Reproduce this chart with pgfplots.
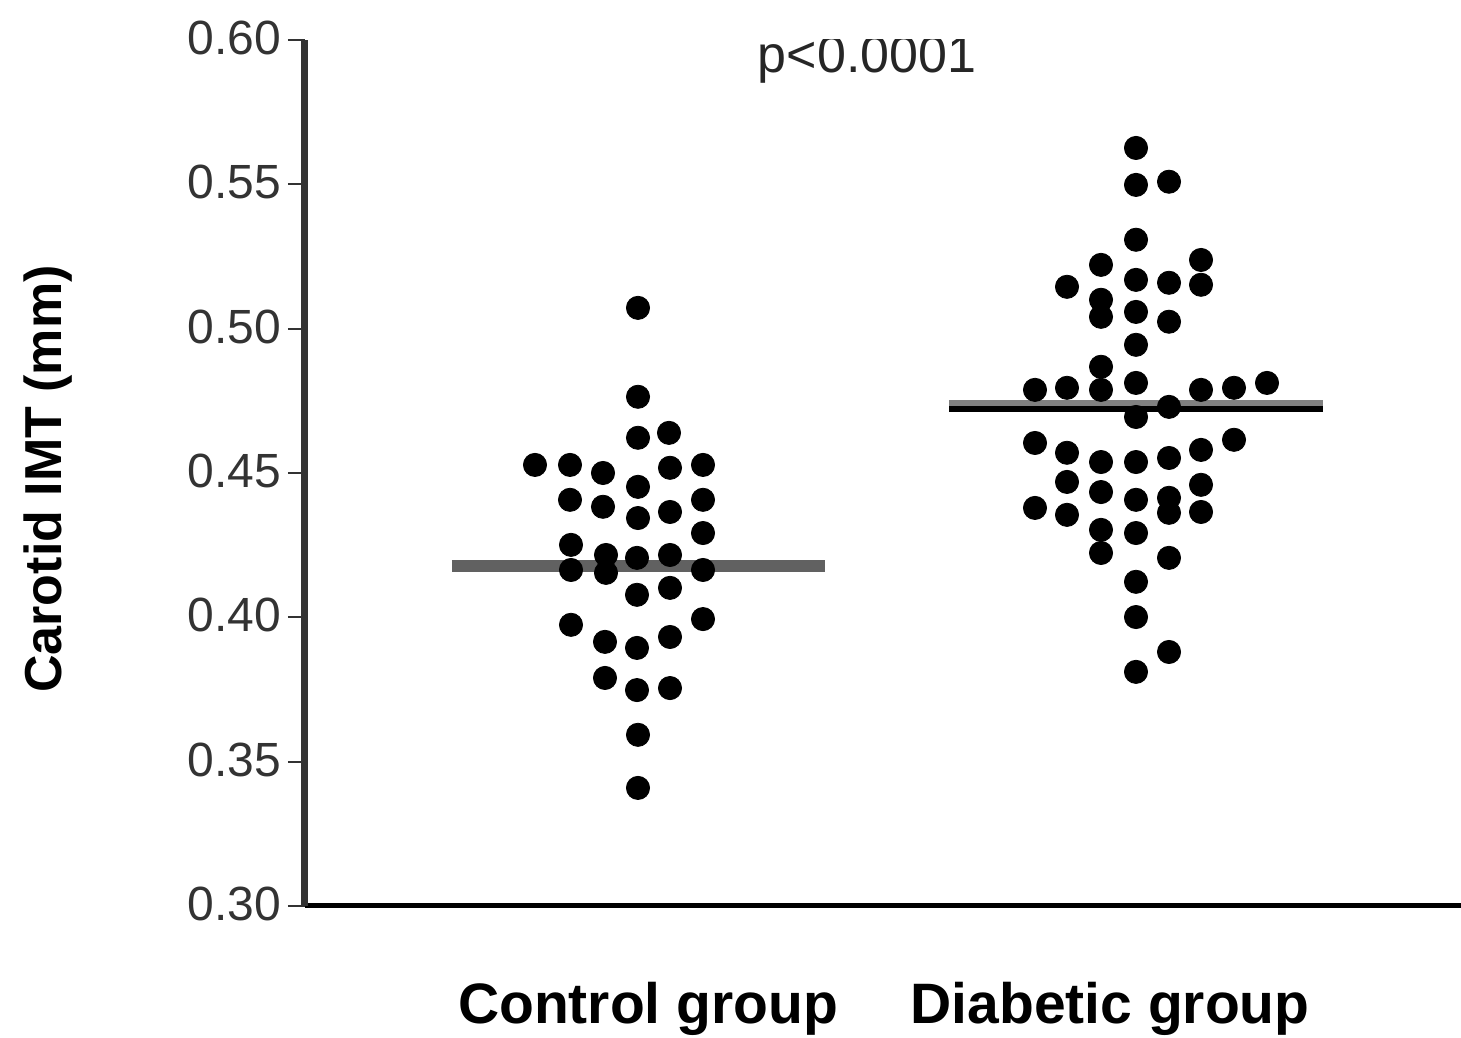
\documentclass[border=0pt]{standalone}
\usepackage{fontspec}
\setmainfont{Liberation Sans}
\usepackage{pgfplots}
\pgfplotsset{compat=1.18}
\begin{document}
\begin{tikzpicture}
\begin{axis}[
  at={(0,0)}, anchor=south west,
  width=578pt, height=433pt, scale only axis,
  xmin=305, xmax=1461, ymin=0.30, ymax=0.60,
  axis lines*=left,
  x axis line style={line width=2.5pt, black},
  y axis line style={line width=3.5pt, black!80},
  ytick={0.30,0.35,0.40,0.45,0.50,0.55,0.60},
  tick align=outside,
  major tick length=8.5pt,
  ytick style={line width=1pt, black!80},
  xtick={648,1110},
  xticklabels={Control group,Diabetic group},
  xtick style={draw=none},
  yticklabel style={font=\fontsize{24}{24}\selectfont, text=black!80, yshift=1pt,
    /pgf/number format/.cd, fixed, fixed zerofill, precision=2, assume math mode=true},
  xticklabel style={font=\fontsize{28.5}{28.5}\selectfont\bfseries, anchor=base, yshift=-50pt},
  ylabel={Carotid IMT (mm)},
  ylabel style={font=\fontsize{26}{26}\selectfont\bfseries, at={(axis description cs:-0.2102,0.4931)}, anchor=base},
]
% medians
\addplot[draw=black!62, line width=6pt] coordinates {(452,0.4178) (825,0.4178)};
\addplot[draw=black!50, line width=3pt] coordinates {(949,0.4743) (1323,0.4743)};
\addplot[draw=black, line width=3pt] coordinates {(949,0.4722) (1323,0.4722)};
% control group
\addplot[only marks, mark=*, mark size=5.8pt, black] table {
x y
638 0.5072
638 0.4764
638 0.4622
669 0.4639
535 0.4528
570 0.4528
603 0.4500
670 0.4518
703 0.4528
638 0.4452
570 0.4407
603 0.4383
638 0.4344
670 0.4365
703 0.4407
703 0.4292
571 0.4251
571 0.4164
606 0.4216
606 0.4154
637 0.4206
670 0.4216
703 0.4164
637 0.4078
670 0.4102
571 0.3974
703 0.3994
605 0.3915
637 0.3894
670 0.3932
605 0.3790
637 0.3748
670 0.3755
638 0.3593
638 0.3409
};
% diabetic group
\addplot[only marks, mark=*, mark size=5.8pt, black] table {
x y
1136 0.5626
1136 0.5498
1169 0.5509
1136 0.5308
1101 0.5221
1201 0.5238
1067 0.5145
1136 0.5169
1169 0.5159
1201 0.5152
1101 0.5100
1101 0.5041
1136 0.5058
1169 0.5024
1136 0.4944
1101 0.4868
1035 0.4788
1067 0.4795
1101 0.4788
1136 0.4812
1201 0.4788
1234 0.4795
1267 0.4812
1169 0.4729
1136 0.4694
1035 0.4604
1067 0.4570
1101 0.4538
1136 0.4538
1169 0.4552
1201 0.4580
1234 0.4615
1067 0.4469
1101 0.4434
1136 0.4407
1169 0.4414
1169 0.4362
1201 0.4459
1201 0.4365
1035 0.4379
1067 0.4355
1101 0.4303
1101 0.4223
1136 0.4292
1169 0.4206
1136 0.4123
1136 0.4001
1169 0.3880
1136 0.3811
};
\node[font=\fontsize{26}{26}\selectfont, text=black!85, anchor=base] at (axis cs:867,0.5886) {p<0.0001};
\end{axis}
\pgfresetboundingbox
\path[use as bounding box] (-152.5pt,-66pt) rectangle (578pt,453pt);
\end{tikzpicture}
\end{document}
